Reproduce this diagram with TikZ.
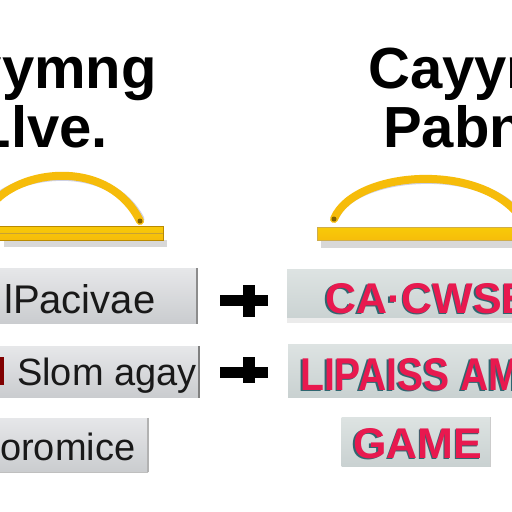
\documentclass[tikz,border=0pt]{standalone}
\usepackage{fontspec}
\setmainfont{Liberation Sans}
\usetikzlibrary{shadows}
\definecolor{gold}{HTML}{F6BC0A}
\definecolor{golddark}{HTML}{B98A00}
\definecolor{shadowblue}{HTML}{9EA2C8}
\definecolor{pinkred}{HTML}{E8194F}
\definecolor{tealdark}{HTML}{2F6670}
\definecolor{boxtop}{HTML}{E6E7E9}
\definecolor{boxbot}{HTML}{CACCCF}
\definecolor{rboxtop}{HTML}{DDE3E2}
\definecolor{rboxbot}{HTML}{C9D1D1}
\tikzset{
  head/.style={font=\fontsize{58}{58}\selectfont\bfseries, inner sep=0pt},
  ltext/.style={font=\fontsize{38}{38}\selectfont, inner sep=0pt, text=black!90},
  rtext/.style={font=\fontsize{43}{43}\selectfont\bfseries, inner sep=0pt},
  lbox/.style={rectangle, inner sep=0pt, top color=boxtop, bottom color=boxbot, draw=none},
  rbox/.style={rectangle, inner sep=0pt, top color=rboxtop, bottom color=rboxbot, draw=none},
  arcline/.style={draw=gold, line width=8pt, line cap=round},
  plusbar/.style={line width=11pt, black},
}
\newcommand{\redtext}[1]{#1}
\begin{document}
\begin{tikzpicture}[x=1pt,y=-1pt]
\useasboundingbox (0,0) rectangle (512,512);
\clip (0,0) rectangle (512,512);
\fill[white] (0,0) rectangle (512,512);
% headings
\node[head, anchor=base east] (h1) at (157,88) {yymng};
\node[head, anchor=base east] (h2) at (108,147) {Llve.};
\node[head, anchor=base west] (h3) at (368,88) {Cayyn};
\node[head, anchor=base west] (h4) at (383,147) {Pabn};
% left bar and arc
\fill[black!25, opacity=0.6] (4,240) rectangle (167,247);
\node[lbox, draw=golddark, line width=0.6pt, top color=gold!80!yellow, bottom color=gold, minimum width=166pt, minimum height=14pt] (bar1) at (80,233) {};
\draw[golddark!80, line width=0.6pt] (bar1.west) -- (bar1.east);
\coordinate (a1s) at (-6,202);
\coordinate (a1e) at (140,221);
\draw[shadowblue, opacity=0.5, line width=7pt, line cap=round] ([yshift=3pt]a1s) .. controls (25,171) and (112,163) .. ([yshift=2pt,xshift=1pt]a1e);
\draw[arcline] (a1s) .. controls (25,168) and (110,160) .. (a1e);
\fill[golddark!70!black] (a1e) circle (2.5pt);
% right bar and arc
\fill[black!25, opacity=0.6] (321,240) rectangle (520,248);
\node[lbox, draw=golddark!70, line width=0.5pt, top color=gold!80!yellow, bottom color=gold, minimum width=200pt, minimum height=13pt] (bar2) at (417,234) {};
\coordinate (a2s) at (334,219);
\coordinate (a2e) at (527,228);
\draw[shadowblue, opacity=0.5, line width=7pt, line cap=round] ([yshift=3pt,xshift=2pt]a2s) .. controls (357,171) and (497,163) .. ([yshift=3pt]a2e);
\draw[arcline] (a2s) .. controls (355,168) and (495,160) .. (a2e);
\fill[golddark!70!black] (a2s) circle (2.5pt);
% left boxes
\node[lbox, minimum width=200pt, minimum height=55pt] (b1) at (97,296) {};
\draw[black!45, line width=2pt] (b1.north east) -- (b1.south east);
\node[ltext, font=\fontsize{40}{40}\selectfont, anchor=base west] (t1) at (4,313) {lPacivae};
\node[lbox, minimum width=202pt, minimum height=51pt] (b2) at (98,372) {};
\draw[black!50, line width=1.5pt] (b2.north east) -- (b2.south east);
\fill[red!50!black] (0,357) rectangle (4,385);
\node[ltext, anchor=base west] (t2) at (17,385) {Slom agay};
\node[lbox, minimum width=150pt, minimum height=54pt] (b3) at (73,445) {};
\draw[black!30, line width=1.5pt] (b3.north east) -- (b3.south east);
\draw[black!25, line width=1pt] (b3.south west) -- (b3.south east);
\node[ltext, anchor=base west] (t3) at (0,460) {oromice};
% plus signs
\draw[plusbar] (220,300) -- (268,300);
\draw[plusbar, line width=12pt] (249,285) -- (249,317);
\draw[plusbar] (220,372) -- (268,372);
\draw[plusbar, line width=12pt] (249,357) -- (249,383);
% right boxes
\node[rbox, minimum width=230pt, minimum height=53pt] (r1) at (402,296) {};
\fill[black!8] (r1.south west) rectangle ([yshift=5pt]r1.south east);
\node[rtext, text=tealdark, anchor=base west] (s1a) at (323.5,314.5) {CA\textperiodcentered CWSE};
\node[rtext, text=pinkred, anchor=base west] (s1) at (325,313) {CA\textperiodcentered CWSE};
\node[rbox, minimum width=230pt, minimum height=53pt] (r2) at (403,371) {};
\node[rtext, text=tealdark, xscale=0.85, font=\fontsize{46}{46}\selectfont\bfseries, anchor=base west] (s2a) at (298.5,391.5) {LIPAISS AM};
\node[rtext, text=pinkred, xscale=0.85, font=\fontsize{46}{46}\selectfont\bfseries, anchor=base west] (s2) at (300,390) {LIPAISS AM};
\node[rbox, minimum width=149pt, minimum height=49pt] (r3) at (416,442) {};
\draw[black!20, line width=1pt] (r3.north east) -- (r3.south east);
\node[rtext, text=tealdark, anchor=base west] (s3a) at (351.5,459.5) {GAME};
\node[rtext, text=pinkred, anchor=base west] (s3) at (353,458) {GAME};
\end{tikzpicture}
\end{document}
